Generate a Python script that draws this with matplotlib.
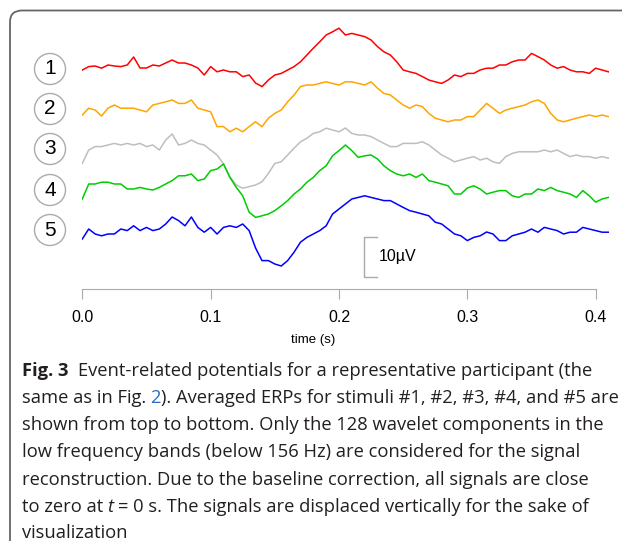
import numpy as np
import matplotlib
matplotlib.use("Agg")
import matplotlib.pyplot as plt
from matplotlib.patches import Ellipse, PathPatch
from matplotlib.path import Path

# averaged ERPs (uV), sampled every 5 ms from t = 0 to 0.41 s
dt = 0.005
erp1 = [-0.25, 0.6, 0.75, 0.2, 1.0, 0.75, 0.6, 1.0, 3.0, 0.25, 0.25, 1.0, 0.75, 1.5, 2.25, 1.5, 1.5, 1.0,
        0.25, -1.5, 0.6, -0.7, -0.25, -0.7, -0.7, -1.9, -1.5, -3.5, -4.4, -2.75, -1.5, -1.1, -0.25, 0.6,
        1.8, 3.5, 5.2, 6.8, 8.5, 9.3, 10.2, 8.5, 8.9, 8.5, 8.1, 7.25, 5.6, 4.3, 3.5, 1.8, -0.25, -0.7,
        -1.1, -1.9, -2.75, -3.2, -3.6, -2.75, -1.5, -1.9, -1.1, -1.1, -0.25, 0.2, 0.2, 1.0, 1.0, 1.8,
        2.25, 2.25, 3.9, 3.1, 2.25, 1.0, 0.2, 0.6, -0.25, -0.7, -0.7, -1.1, 0.2, -0.25, -0.7]
erp2 = [-1.5, 0.2, -0.25, -1.75, 0.2, 1.0, 0.2, 0.2, 0.2, -0.25, -0.7, 1.0, 1.4, 1.8, 2.25, 1.4, 1.4,
        2.25, 0.2, -0.25, -0.7, -4.4, -4.4, -5.7, -4.8, -5.7, -4.4, -3.2, -4.4, -2.3, -1.1, -0.25, 1.8,
        3.5, 5.6, 6.0, 6.0, 6.4, 6.8, 6.4, 6.0, 6.8, 6.8, 6.4, 6.0, 6.8, 5.2, 3.9, 3.5, 2.25, 1.0, 0.2,
        1.0, 0.6, -1.1, -2.3, -2.75, -3.2, -2.75, -2.75, -1.9, -1.9, -0.25, 1.4, 0.2, -1.1, -0.25, 0.2,
        0.6, 1.0, 1.8, 2.25, 1.4, -1.1, -2.75, -3.2, -2.75, -2.3, -1.9, -1.5, -1.9, -1.5, -1.9]
erp3 = [-3.6, -0.25, 0.6, 0.6, 1.0, 1.4, 1.0, 1.4, 1.0, 1.4, 0.6, 1.0, -0.25, 2.25, 3.75, 1.0, 1.4,
        2.25, 1.4, 1.0, -0.25, -1.5, -3.75, -6.9, -9.0, -9.8, -9.4, -9.0, -8.2, -6.1, -3.6, -3.2, -1.5,
        0.2, 1.8, 2.7, 3.9, 4.3, 5.2, 4.75, 4.3, 5.25, 3.9, 3.5, 3.5, 3.1, 2.25, 1.4, 0.6, 0.6, 1.4, 1.4,
        1.4, 1.8, 1.0, -0.25, -1.5, -2.3, -3.2, -2.75, -2.3, -1.9, -2.75, -2.3, -3.2, -3.6, -1.9, -1.1,
        -0.7, -0.7, -0.7, -0.7, -0.25, -0.7, -0.25, -1.1, -1.9, -1.5, -1.9, -1.9, -2.3, -1.9, -2.3]
erp4 = [-2.5, 1.25, 1.25, 1.7, 1.7, 1.25, 1.25, 0.0, 0.0, 0.4, 0.0, -0.25, 0.4, 1.25, 2.1, 3.3, 3.3,
        3.75, 2.1, 2.5, 4.6, 5.0, 6.25, 2.9, 0.4, -1.7, -5.8, -7.1, -6.7, -6.25, -5.4, -4.2, -2.9, -1.25,
        0.0, 1.7, 2.9, 4.6, 5.8, 8.3, 9.6, 11.0, 9.6, 7.9, 8.3, 8.5, 7.5, 5.8, 4.6, 3.75, 3.3, 3.75, 2.9,
        3.75, 2.1, 1.7, 1.25, 0.8, -1.25, -1.25, 0.25, 0.8, 0.0, -1.25, -0.8, -0.4, -0.4, -1.7, -2.1,
        -1.25, -1.25, 0.0, -0.4, 0.4, -0.4, -0.8, -1.25, -2.1, -0.4, -1.7, -3.3, -2.5, -2.1]
erp5 = [-2.5, 0.0, -1.25, -1.7, -1.25, -1.25, 0.0, -0.4, 0.8, -0.4, 0.4, -0.4, 0.0, 1.25, 3.0, 2.1,
        0.8, 3.0, 0.4, -0.8, 0.4, -1.25, 0.4, 0.8, 0.4, 1.25, -0.4, -4.75, -7.9, -7.9, -8.75, -9.25,
        -7.9, -5.8, -3.3, -2.1, -1.25, -0.4, 0.8, 3.75, 5.0, 6.25, 7.5, 7.9, 8.3, 7.9, 7.5, 7.1, 7.1,
        6.25, 5.4, 4.6, 4.2, 3.75, 3.3, 1.7, 1.25, 0.0, -1.25, -1.7, -2.9, -2.1, -1.7, -0.75, -1.25,
        -2.9, -2.9, -1.7, -1.25, -0.8, 0.0, -0.8, 0.4, 0.0, -0.4, -1.25, -0.8, -0.8, 0.4, 0.0, -0.4,
        -0.8, -0.8]

series = [erp1, erp2, erp3, erp4, erp5]
labels = ["1", "2", "3", "4", "5"]
colors = ["#FF0000", "#FFA500", "#BEBEBE", "#00CD00", "#0000FF"]
offsets = [0, -10, -20, -30, -40]
ticks = [0.0, 0.1, 0.2, 0.3, 0.4]
tick_labels = ["0.0", "0.1", "0.2", "0.3", "0.4"]

W, H = 622, 546
fig = plt.figure(figsize=(W / 100, H / 100), dpi=100)


def fx(px):
    return px / W


def fy(py):
    return 1 - py / H


ax = fig.add_axes([fx(82.3), fy(289), (608.5 - 82.3) / W, (289 - 20) / H])
ax.patch.set_alpha(0)
for vals, col, off in zip(series, colors, offsets):
    t = dt * np.arange(len(vals))
    ax.plot(t, np.array(vals) + off, color=col, lw=1.1)
ax.set_xlim(0, 0.41)
ax.set_ylim(-55, 12.25)
for s in ["left", "top", "right"]:
    ax.spines[s].set_visible(False)
ax.spines["bottom"].set_color("#aaaaaa")
ax.spines["bottom"].set_bounds(0, 0.4)
ax.set_yticks([])
ax.set_xticks(ticks)
ax.set_xticklabels(tick_labels, fontfamily="Liberation Sans")
ax.tick_params(axis="x", direction="out", length=7, color="#aaaaaa", labelsize=11.5, pad=8)

# scale bar
ax.plot([0.2295, 0.2195, 0.2195, 0.2295], [-42, -42, -52, -52], color="#aaaaaa", lw=1)
ax.text(0.231, -47, "10\u00b5V", va="center", ha="left", fontsize=11.5, fontfamily="Liberation Sans")

fig.text(fx(313), fy(340), "time (s)", ha="center", va="center", fontsize=9.5,
         fontfamily="Liberation Sans")

# numbered circles
for lab, cy in zip(labels, [69, 109, 149, 190, 230]):
    fig.add_artist(Ellipse((fx(50), fy(cy)), 31 / W, 31 / H, fill=False, ec="#aaaaaa", lw=1,
                           transform=fig.transFigure))
    fig.text(fx(50), fy(cy), lab, ha="center", va="center", fontsize=15,
             fontfamily="Liberation Sans")

# frame (left + top edges, rounded corner)
verts = [(10, 541), (10, 22), (10, 10.5), (22, 10.5), (622, 10.5)]
codes = [Path.MOVETO, Path.LINETO, Path.CURVE3, Path.CURVE3, Path.LINETO]
frame = Path([(fx(x), fy(y)) for x, y in verts], codes)
fig.add_artist(PathPatch(frame, fill=False, ec="#666666", lw=1.3, transform=fig.transFigure))

# caption
renderer = fig.canvas.get_renderer()
cap = dict(fontfamily="Open Sans", fontsize=13.2, color="#231f20")


def write_line(y, parts):
    x = 22
    for s, gap, kw in parts:
        style = dict(cap)
        style.update(kw)
        txt = fig.text(fx(x), fy(y), s, va="baseline", ha="left", **style)
        x += txt.get_window_extent(renderer).width + gap


write_line(376, [("Fig. 3", 9, dict(fontweight="bold")),
                 ("Event-related potentials for a representative participant (the", 0, {})])
write_line(403, [("same as in Fig.", 4, {}), ("2", 0, dict(color="#2a6ebb")),
                 ("). Averaged ERPs for stimuli #1, #2, #3, #4, and #5 are", 0, {})])
write_line(430, [("shown from top to bottom. Only the 128 wavelet components in the", 0, {})])
write_line(457, [("low frequency bands (below 156 Hz) are considered for the signal", 0, {})])
write_line(485, [("reconstruction. Due to the baseline correction, all signals are close", 0, {})])
write_line(512, [("to zero at", 4, {}), ("t", 5, dict(fontstyle="italic")),
                 ("= 0 s. The signals are displaced vertically for the sake of", 0, {})])
write_line(538, [("visualization", 0, {})])

fig.savefig("out.png", dpi=100)
